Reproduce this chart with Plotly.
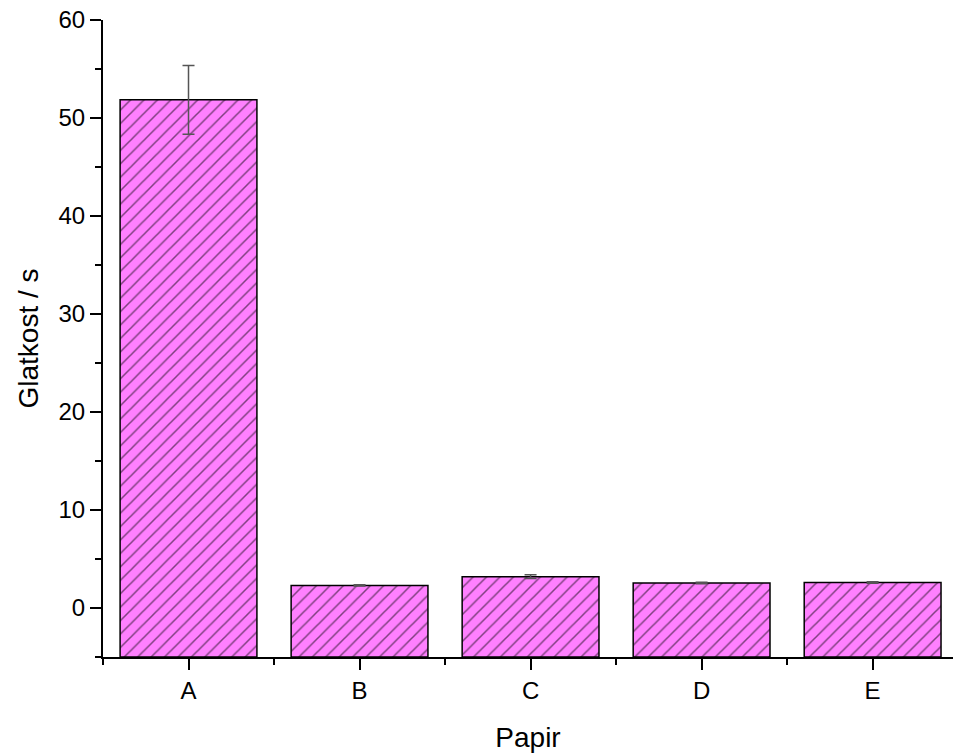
import plotly.graph_objects as go

categories = ["A", "B", "C", "D", "E"]
values = [51.85, 2.3, 3.2, 2.55, 2.6]
errors = [3.5, 0.06, 0.2, 0.08, 0.08]
axis_floor = -5

x_pos = list(range(len(categories)))

fig = go.Figure()
fig.add_trace(go.Bar(
    x=x_pos,
    y=[v - axis_floor for v in values],
    base=axis_floor,
    width=0.8,
    marker=dict(
        color="#FF80FF",
        line=dict(color="black", width=1.5),
        pattern=dict(shape="/", fgcolor="black", bgcolor="#FF80FF", size=9.5, solidity=0.16),
    ),
    showlegend=False,
    hoverinfo="skip",
))
fig.add_trace(go.Scatter(
    x=x_pos,
    y=values,
    mode="markers",
    marker=dict(size=0.1, color="rgba(0,0,0,0)"),
    error_y=dict(type="data", array=errors, visible=True, color="#555555", thickness=1.5, width=6),
    showlegend=False,
    hoverinfo="skip",
))

font = "Liberation Sans, Arial, sans-serif"
fig.update_layout(
    width=953, height=753,
    margin=dict(l=103, r=0, t=20, b=96),
    plot_bgcolor="white", paper_bgcolor="white",
    font=dict(family=font, color="black"),
    xaxis=dict(
        range=[-0.5, 4.47], automargin=False,
        tickmode="array", tickvals=x_pos, ticktext=categories,
        ticks="outside", ticklen=11, tickwidth=2, tickcolor="black",
        tickfont=dict(size=24, family=font),
        showline=True, linecolor="black", linewidth=2,
        showgrid=False, zeroline=False,
        minor=dict(tickmode="array", tickvals=[-0.5, 0.5, 1.5, 2.5, 3.5], ticks="outside",
                   ticklen=6, tickwidth=2, tickcolor="black", showgrid=False),
        title=dict(text="Papir", font=dict(size=28, family=font), standoff=26),
    ),
    yaxis=dict(
        range=[-5, 60], automargin=False,
        tickmode="array", tickvals=[0, 10, 20, 30, 40, 50, 60],
        ticks="outside", ticklen=11, tickwidth=2, tickcolor="black",
        tickfont=dict(size=24, family=font),
        showline=True, linecolor="black", linewidth=2,
        showgrid=False, zeroline=False,
        minor=dict(tickmode="array", tickvals=[-5, 5, 15, 25, 35, 45, 55], ticks="outside",
                   ticklen=6, tickwidth=2, tickcolor="black", showgrid=False),
        title=dict(text="Glatkost / s", font=dict(size=28, family=font), standoff=12),
    ),
)

fig.write_html("out.html", config={"displayModeBar": False},
               post_script="document.body.style.margin='0';document.body.style.overflow='hidden';")
